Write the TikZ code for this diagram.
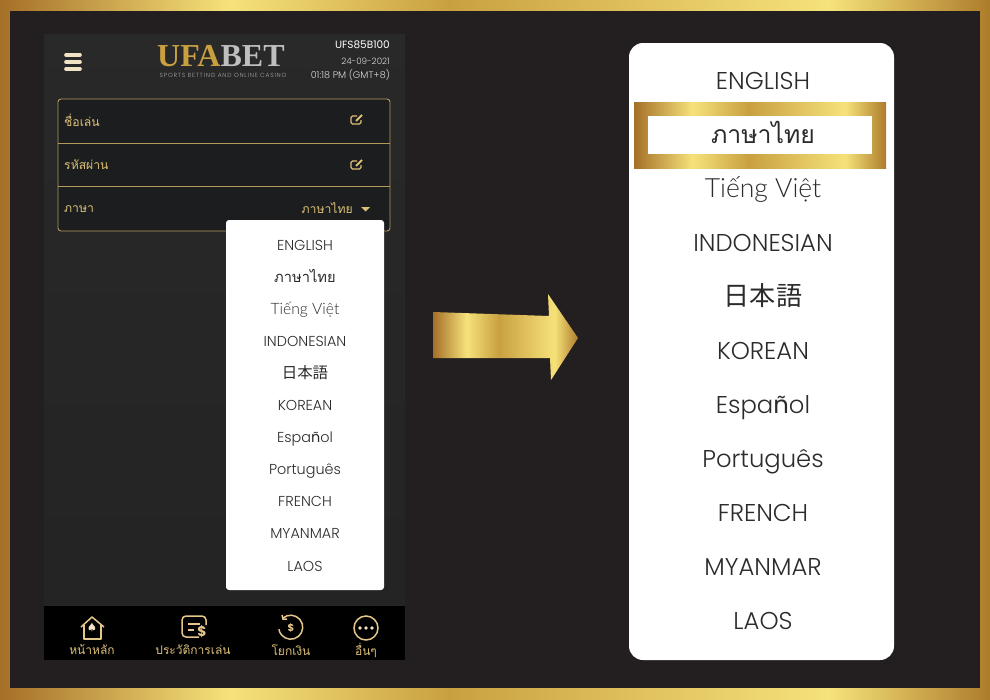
\documentclass[tikz,border=0pt]{standalone}
\usepackage{fontspec}
\setmainfont{Poppins Light}
\newfontfamily\medfont{Poppins}
\newfontfamily\viet[Scale=1.09]{Lato Light}
\newfontfamily\thaifont[Script=Thai]{Loma}
\newfontfamily\thaibig[Script=Thai,Scale=1.02]{Loma}
\newfontfamily\cjk[Scale=1.075]{Noto Sans CJK JP}
\newfontfamily\logofont{Liberation Serif}
\newfontfamily\tagfont[LetterSpace=13]{Poppins Light}
\definecolor{goldA}{HTML}{A56F28}
\definecolor{goldB}{HTML}{F6E27A}
\definecolor{goldC}{HTML}{C9A040}
\definecolor{goldD}{HTML}{AD7C2B}
\definecolor{boardbg}{HTML}{231F20}
\definecolor{fieldbg}{HTML}{1B1D1E}
\definecolor{fieldline}{HTML}{B29A5C}
\definecolor{labelgold}{HTML}{DDBF78}
\definecolor{icongold}{HTML}{E6C78A}
\definecolor{cream}{HTML}{F1E3C4}
\definecolor{itemtext}{HTML}{2B2B2B}
\pgfdeclarehorizontalshading{goldbar}{100bp}{color(0bp)=(goldA);color(25bp)=(goldA);color(36.6bp)=(goldB);color(47.7bp)=(goldC);color(66.9bp)=(goldB);color(75bp)=(goldD);color(100bp)=(goldD)}
\tikzset{
  smallitem/.style={text=itemtext,text height=10pt,text depth=0pt,font=\fontsize{14.4}{15}\selectfont},
  bigitem/.style={text=itemtext,text height=17pt,text depth=0pt,font=\fontsize{24.3}{25}\selectfont},
  fieldlabel/.style={text=labelgold,font=\thaifont\fontsize{12.2}{13}\selectfont},
  barlabel/.style={text=labelgold,font=\thaifont\fontsize{12}{13}\selectfont},
  iconline/.style={draw=icongold,line width=1.5pt}
}
\def\langitems{0/ENGLISH,1/{\thaibig ภาษาไทย},2/{\viet Tiếng Việt},3/INDONESIAN,4/{\cjk 日本語},5/KOREAN,6/{Espa{\medfont ñ}ol},7/Português,8/FRENCH,9/MYANMAR,10/LAOS}
\begin{document}
\begin{tikzpicture}[x=1pt,y=-1pt]
\useasboundingbox (0,0) rectangle (990,699);
% frame and board
\shade[shading=goldbar] (0,0) rectangle (990,699);
\fill[boardbg] (10,11) rectangle (980,688);
% phone screen
\shade[top color=black!84!white,bottom color=black!86!white] (44,34) rectangle (405,606);
\fill[black] (44,606) rectangle (405,660);
% header
\foreach \yy in {55,62,69} \draw[cream,line width=3.6pt,line cap=round] (66,\yy) -- (80,\yy);
\node[anchor=base west,inner sep=0pt,font=\logofont\bfseries\fontsize{32}{33}\selectfont] (logo) at (157,66) {\textcolor{goldC}{UFA}\textcolor{black!25}{BET}};
\node[anchor=center,inner sep=0pt,text=black!35,font=\tagfont\fontsize{6}{6}\selectfont] (tagline) at (223,75) {SPORTS BETTING AND ONLINE CASINO};
\node[anchor=east,inner sep=0pt,text=white,font=\medfont\fontsize{10.5}{11}\selectfont] (userid) at (390,45) {UFS85B100};
\node[anchor=east,inner sep=0pt,text=black!15,font=\fontsize{8.8}{9}\selectfont] (today) at (390,61) {24-09-2021};
\node[anchor=east,inner sep=0pt,text=black!15,font=\fontsize{9.6}{10}\selectfont] (clock) at (390,75) {01:18 PM (GMT+8)};
% settings box
\draw[draw=fieldline,fill=fieldbg,line width=0.9pt,rounded corners=3pt] (58,99) rectangle (390,231);
\draw[fieldline,line width=0.9pt] (58,143) -- (390,143);
\draw[fieldline,line width=0.9pt] (58,186) -- (390,186);
\node[fieldlabel,anchor=west,inner sep=0pt] (nickname) at (64,120) {ชื่อเล่น};
\node[fieldlabel,anchor=west,inner sep=0pt] (password) at (64,165) {รหัสผ่าน};
\node[fieldlabel,anchor=west,inner sep=0pt] (language) at (64,209.5) {ภาษา};
\node[fieldlabel,anchor=east,inner sep=0pt] (current) at (353,208) {ภาษาไทย};
\foreach \yy in {120,165} {
  \draw[labelgold,line width=1.1pt,rounded corners=1.5pt] (357,\yy-4) -- (351,\yy-4) -- (351,\yy+4) -- (361,\yy+4) -- (361,\yy);
  \draw[labelgold,line width=1.9pt] (356,\yy+1) -- (362,\yy-5);
}
\fill[labelgold] (361,207) -- (370,207) -- (365.5,211.5) -- cycle;
% small list
\fill[white,rounded corners=3pt] (226,220) rectangle (384,590);
\foreach \i/\lbl in \langitems {
  \node[smallitem,inner sep=0pt] (small\i) at (305,245+32.1*\i) {\lbl};
}
% bottom bar
\node[barlabel,inner sep=0pt] (home) at (92,650) {หน้าหลัก};
\node[barlabel,inner sep=0pt] (history) at (193,650) {ประวัติการเล่น};
\node[barlabel,inner sep=0pt] (transfer) at (291,650) {โยกเงิน};
\node[barlabel,inner sep=0pt] (more) at (366,650) {อื่นๆ};
\draw[iconline,line join=round] (81,627) -- (92,617) -- (104,627);
\draw[iconline,line join=round] (84,625) -- (84,639) -- (101,639) -- (101,625);
\node[text=cream,inner sep=0pt,font=\fontsize{10}{10}\selectfont] (spade) at (92,628) {$\spadesuit$};
\draw[iconline,rounded corners=4pt] (199,637) -- (182,637) -- (182,616) -- (206,616) -- (206,625);
\draw[iconline] (188,624) -- (200,624);
\draw[iconline] (188,630) -- (194,630);
\node[text=icongold,inner sep=0pt,font=\medfont\bfseries\fontsize{14}{14}\selectfont] (dollarA) at (202,632) {\$};
\draw[iconline] (283,618) arc[start angle=-130,end angle=170,radius=12];
\draw[iconline] (282,615) -- (283,619) -- (287,619);
\node[text=icongold,inner sep=0pt,font=\medfont\bfseries\fontsize{10}{10}\selectfont] (dollarB) at (291,628) {\$};
\draw[iconline] (366,628) circle[radius=12];
\foreach \xx in {360,366,372} \fill[cream] (\xx,628) circle[radius=1.9];
% arrow
\shade[shading=goldbar] (433,312) -- (549,316) -- (548,294) -- (578,338) -- (551,380) -- (550,358) -- (433,358) -- cycle;
% big list
\fill[white,rounded corners=14pt] (629,43) rectangle (894,660);
\shade[shading=goldbar] (634,102) rectangle (886,168);
\fill[white] (648,116) rectangle (872,154);
\foreach \i/\lbl in \langitems {
  \node[bigitem,inner sep=0pt] (big\i) at (763,81+54*\i) {\lbl};
}
\end{tikzpicture}
\end{document}
